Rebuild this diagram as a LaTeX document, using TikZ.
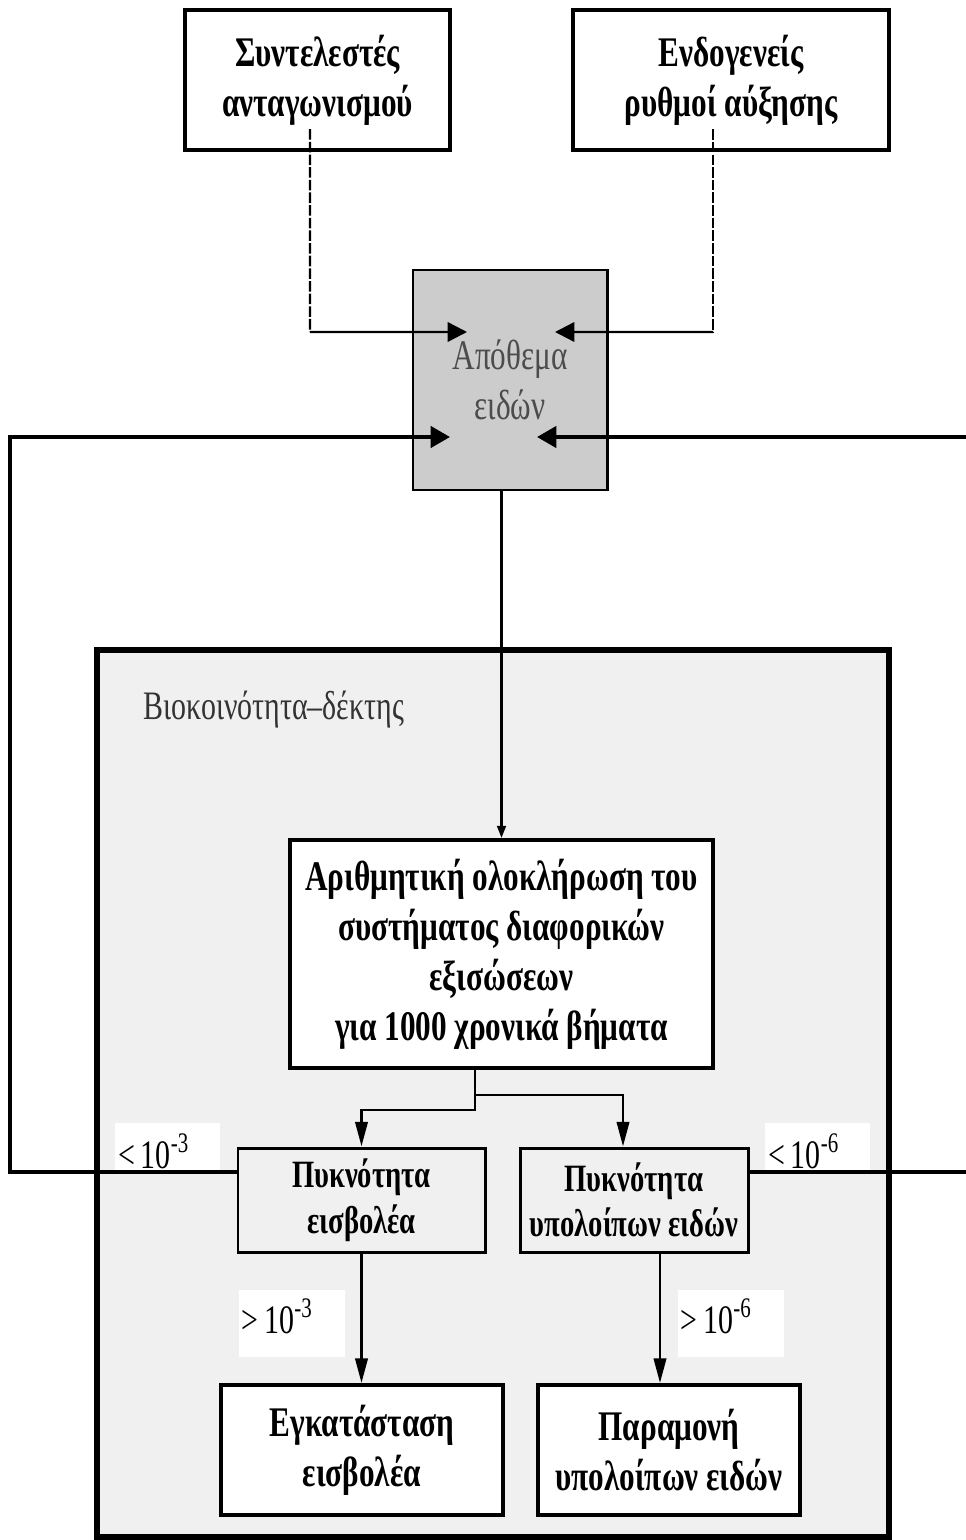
\documentclass[tikz,border=0pt]{standalone}
\usepackage{fontspec}
\setmainfont{Liberation Serif}[FakeStretch=0.74]
\usepackage{xcolor}
\usetikzlibrary{arrows.meta}
\definecolor{stockgray}{HTML}{CCCCCC}
\definecolor{hostgray}{HTML}{F0F0F0}

\begin{document}
\begin{tikzpicture}[
  box/.style={draw,line width=2.2pt,fill=white,align=center,inner sep=0pt,font=\bfseries\fontsize{24}{28.5}\selectfont},
  small/.style={box,line width=1.7pt,fill=hostgray,font=\bfseries\fontsize{22}{26}\selectfont},
  cut/.style={fill=white,inner xsep=0.06cm,inner ysep=0pt,align=left,font=\fontsize{23}{26}\selectfont},
  cutlo/.style={cut,text width=1.98cm,text height=0.9cm,text depth=0.04cm},
  cuthi/.style={cut,text width=2.0cm,text height=0.86cm,text depth=0.48cm},
  loop/.style={line width=2.3pt,-{Triangle[length=11pt,width=12pt]}},
  feed/.style={line width=1.4pt,-{Triangle[length=11pt,width=11pt]}},
  flow/.style={line width=1.6pt,-{Triangle[length=14pt,width=7pt]}}]
  \useasboundingbox (0,0) rectangle (19.3,-30.8);
  % receiving community
  \node[draw,line width=3.4pt,fill=hostgray,minimum width=15.84cm,minimum height=17.74cm,inner sep=0pt] (host) at (9.86,-21.87) {};
  \node[anchor=west,text=black!80,font=\fontsize{23}{27}\selectfont] (hostname) at (2.75,-14.2) {Βιοκοινότητα–δέκτης};
  % inputs
  \node[box,line width=2.5pt,minimum width=5.3cm,minimum height=2.8cm] (coef) at (6.35,-1.6) {Συντελεστές\\ανταγωνισμού};
  \node[box,line width=2.5pt,minimum width=6.32cm,minimum height=2.8cm] (rates) at (14.62,-1.6) {Ενδογενείς\\ρυθμοί αύξησης};
  \node[draw,line width=1.7pt,fill=stockgray,text=black!70,align=center,inner sep=0pt,minimum width=3.88cm,minimum height=4.4cm,font=\fontsize{24}{28.5}\selectfont] (stock) at (10.2,-7.6) {Απόθεμα\\ειδών};
  % model
  \node[box,minimum width=8.46cm,minimum height=4.56cm] (integ) at (10.03,-19.08) {Αριθμητική ολοκλήρωση του\\συστήματος διαφορικών\\εξισώσεων\\για 1000 χρονικά βήματα};
  \node[small,minimum width=4.94cm,minimum height=2.08cm] (dinv) at (7.23,-24.0) {Πυκνότητα\\εισβολέα};
  \node[small,minimum width=4.56cm,minimum height=2.08cm] (drest) at (12.68,-24.0) {Πυκνότητα\\υπολοίπων ειδών};
  \node[box,minimum width=5.64cm,minimum height=2.6cm] (estab) at (7.24,-29.0) {Εγκατάσταση\\εισβολέα};
  \node[box,minimum width=5.24cm,minimum height=2.6cm] (persist) at (13.38,-29.0) {Παραμονή\\υπολοίπων ειδών};
  % thresholds
  \node[cutlo] (lowinv) at (3.35,-22.93) {<\hspace{0.15em}10\textsuperscript{-3}};
  \node[cutlo] (lowrest) at (16.35,-22.93) {<\hspace{0.15em}10\textsuperscript{-6}};
  \node[cuthi] (highinv) at (5.83,-26.47) {>\hspace{0.15em}10\textsuperscript{-3}};
  \node[cuthi] (highrest) at (14.61,-26.47) {>\hspace{0.15em}10\textsuperscript{-6}};
  % connectors
  \coordinate (coefturn) at (6.2,-6.64);
  \coordinate (rateturn) at (14.26,-6.64);
  \coordinate (westcorner) at (0.2,-8.74);
  \coordinate (eastcorner) at (19.5,-8.74);
  \coordinate (split) at ([xshift=-0.53cm]integ.south);
  \draw[line width=1.4pt,dash pattern=on 6pt off 1.2pt] ([xshift=-0.15cm,yshift=0.46cm]coef.south) -- (coefturn);
  \draw[feed] (coefturn) -- ([xshift=-0.86cm,yshift=0.96cm]stock.center);
  \draw[line width=1.4pt,dash pattern=on 6pt off 1.2pt] ([xshift=-0.36cm,yshift=0.46cm]rates.south) -- (rateturn);
  \draw[feed] (rateturn) -- ([xshift=0.9cm,yshift=0.96cm]stock.center);
  \draw[loop] ([yshift=0.56cm]dinv.west) -| (westcorner) -- ([xshift=-1.2cm,yshift=-1.14cm]stock.center);
  \draw[loop] ([yshift=0.56cm]drest.east) -| (eastcorner) -- ([xshift=0.54cm,yshift=-1.14cm]stock.center);
  \draw[line width=1.4pt,-{Triangle[length=7pt,width=5pt]}] (integ.north |- stock.south) -- (integ.north);
  \draw[flow] (integ.south -| split) -- ++(0,-0.8) -| (dinv.north);
  \draw[flow] ([yshift=-0.5cm]split) -| ([xshift=-0.22cm]drest.north);
  \draw[flow] (dinv.south) -- (dinv.south |- estab.north);
  \draw[flow] ([xshift=0.52cm]drest.south) -- ([xshift=0.52cm]drest.south |- persist.north);
\end{tikzpicture}
\end{document}
